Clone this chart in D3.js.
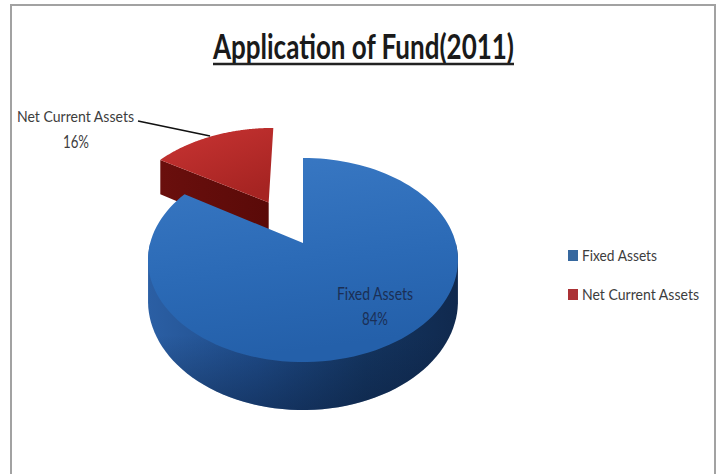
<!DOCTYPE html>
<html>
<head>
<meta charset="utf-8">
<script src="https://cdn.jsdelivr.net/npm/d3@7/dist/d3.min.js"></script>
<style>
html,body{margin:0;padding:0;background:#fff}
svg{display:block}
text{font-family:Lato,"Open Sans",sans-serif}
</style>
</head>
<body>
<svg id="chart" width="722" height="474"></svg>
<script>
const categories = ["Fixed Assets", "Net Current Assets"];
const shares = [84, 16];
const chartTitle = "Application of Fund(2011)";

const svg = d3.select("#chart");
const defs = svg.append("defs");

// Perspective view of the pie plane: k is the foreshortening, D the wall height.
const view = {cx: 303, cy: 243, rx: 152.8, ry: 99.2, k: 1 / 6, D: 40};
const explodeBy = [0, 0.5];

function project(u, v, floor) {
  const w = 1 + view.k * v;
  return [
    view.cx + view.rx * u / w,
    view.cy - view.ry * v / w + (floor ? view.D / w : 0)
  ];
}

const arcs = d3.pie().sort(null).value(d => d)(shares);

function slicePoints(a, i) {
  const mid = (a.startAngle + a.endAngle) / 2;
  return {
    ox: explodeBy[i] * Math.sin(mid),
    oy: explodeBy[i] * Math.cos(mid),
    angles: d3.range(0, 121).map(t => a.startAngle + (a.endAngle - a.startAngle) * t / 120)
  };
}

function rim(s, angle, floor) {
  return project(s.ox + Math.sin(angle), s.oy + Math.cos(angle), floor);
}

const line = d3.line().curve(d3.curveLinear);

function gradient(id, x1, y1, x2, y2, stops) {
  const g = defs.append("linearGradient").attr("id", id)
    .attr("x1", x1).attr("y1", y1).attr("x2", x2).attr("y2", y2);
  stops.forEach(([o, c, a]) => g.append("stop")
    .attr("offset", o).attr("stop-color", c).attr("stop-opacity", a === undefined ? 1 : a));
}
gradient("blueTop", 0, 0, 0.2, 1, [[0, "#3a79c4"], [0.6, "#2b6ab6"], [1, "#2460aa"]]);
gradient("blueWall", 0, 0, 1, 0, [[0, "#2b5fa4"], [0.35, "#1f4c8a"], [0.7, "#143560"], [1, "#10294e"]]);
gradient("wallShade", 0, 0, 0, 1, [[0.55, "#0a1c3a", 0], [1, "#0a1c3a", 0.45]]);
gradient("redTop", 0, 0, 0.6, 1, [[0, "#c93433"], [1, "#a62422"]]);
gradient("redWall", 0, 0, 1, 0, [[0, "#6a0f0d"], [1, "#5a0a08"]]);

// Exploded slice goes first so the main body overlaps its lower wall.
{
  const a = arcs[1], s = slicePoints(a, 1);
  const apex = project(s.ox, s.oy, false);
  const apexLow = project(s.ox, s.oy, true);
  svg.append("path")
    .attr("d", line([rim(s, a.startAngle, false), apex, apexLow, rim(s, a.startAngle, true)]) + "Z")
    .attr("fill", "url(#redWall)");
  svg.append("path")
    .attr("d", line([apex, ...s.angles.map(t => rim(s, t, false))]) + "Z")
    .attr("fill", "url(#redTop)");
}

{
  const a = arcs[0], s = slicePoints(a, 0);
  const frontAngles = s.angles.filter(t => t >= Math.PI / 2 && t <= 3 * Math.PI / 2);
  const wall = line(d3.polygonHull(frontAngles.flatMap(t => [rim(s, t, false), rim(s, t, true)]))) + "Z";
  svg.append("path").attr("d", wall).attr("fill", "url(#blueWall)");
  svg.append("path").attr("d", wall).attr("fill", "url(#wallShade)");
  const apex = project(s.ox, s.oy, false);
  svg.append("path")
    .attr("d", line([apex, ...s.angles.map(t => rim(s, t, false))]) + "Z")
    .attr("fill", "url(#blueTop)");
}

// Chart frame
svg.append("path")
  .attr("d", "M11,474V5H715V474")
  .attr("fill", "none").attr("stroke", "#a2a2a2").attr("stroke-width", 2);

svg.append("text")
  .attr("x", 363.5).attr("y", 59)
  .attr("text-anchor", "middle")
  .attr("font-size", 35).attr("font-weight", 700)
  .attr("textLength", 301).attr("lengthAdjust", "spacingAndGlyphs")
  .attr("fill", "#1a1a1a")
  .text(chartTitle);
svg.append("line")
  .attr("x1", 213).attr("x2", 514).attr("y1", 64).attr("y2", 64)
  .attr("stroke", "#222").attr("stroke-width", 2.5);

function label(x, y, str, width, color, anchor, size) {
  svg.append("text")
    .attr("x", x).attr("y", y)
    .attr("text-anchor", anchor || "middle")
    .attr("font-size", size || 17)
    .attr("fill", color)
    .attr("textLength", width).attr("lengthAdjust", "spacingAndGlyphs")
    .text(str);
}

label(375, 300, categories[0], 76, "#1b2f55");
label(375, 325, shares[0] + "%", 26, "#1b2f55");
label(75.5, 122, categories[1], 117, "#3d3d3d", "middle", 15.5);
label(76, 148, shares[1] + "%", 26, "#3d3d3d");

svg.append("line")
  .attr("x1", 138).attr("y1", 121).attr("x2", 210).attr("y2", 136)
  .attr("stroke", "#111").attr("stroke-width", 1.6);

// Legend
const legendColors = ["#36689f", "#ab3135"];
const legendY = [250, 289];
const legendWidths = [75, 117];
categories.forEach((c, i) => {
  svg.append("rect")
    .attr("x", 568).attr("y", legendY[i])
    .attr("width", 10).attr("height", 11)
    .attr("fill", legendColors[i]);
  label(582, legendY[i] + 11, c, legendWidths[i], "#3d3d3d", "start", 15.5);
});
</script>
</body>
</html>
